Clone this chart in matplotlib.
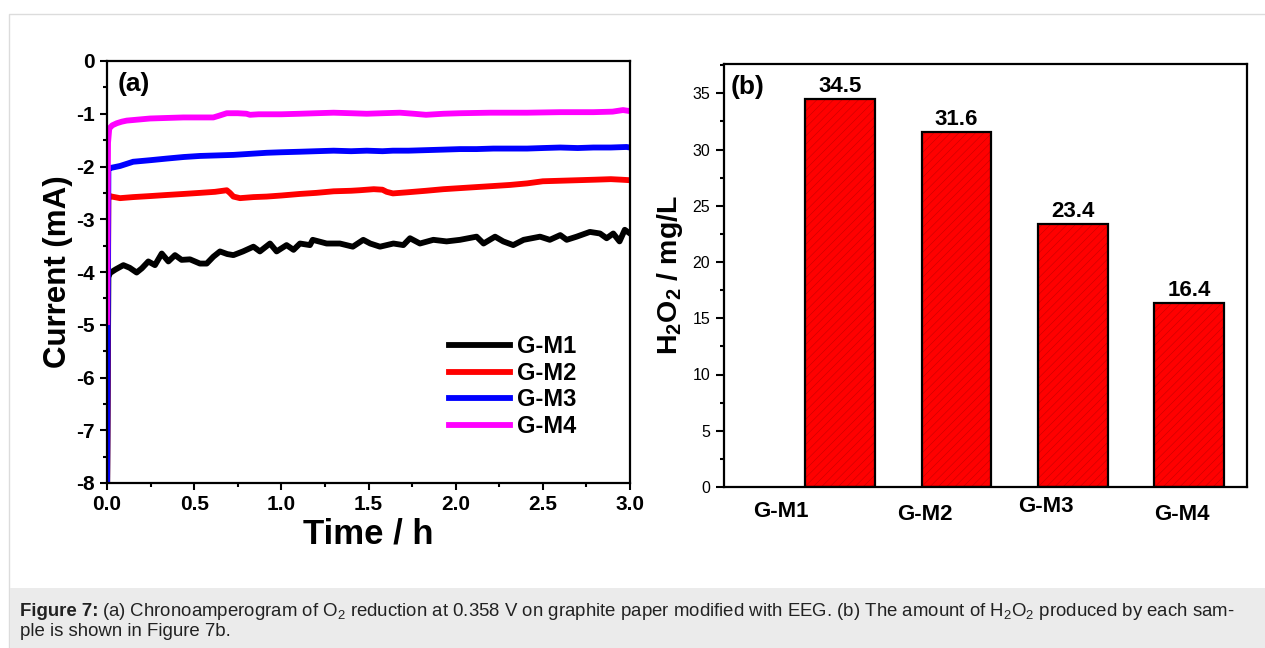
import matplotlib
matplotlib.use("Agg")
import matplotlib.pyplot as plt
from matplotlib.patches import Rectangle
from matplotlib.ticker import MultipleLocator, FormatStrFormatter

plt.rcParams["font.family"] = ["Liberation Sans", "DejaVu Sans"]
plt.rcParams["mathtext.fontset"] = "custom"
plt.rcParams["mathtext.rm"] = "Liberation Sans"
plt.rcParams["mathtext.bf"] = "Liberation Sans:bold"
plt.rcParams["mathtext.it"] = "Liberation Sans:italic"
plt.rcParams["mathtext.default"] = "regular"
plt.rcParams["axes.unicode_minus"] = False
plt.rcParams["hatch.linewidth"] = 0.4

# ---- (a) chronoamperometry traces: time (h) and current (mA) ----
t_m1 = [0.0, 0.008, 0.017, 0.05, 0.094, 0.13, 0.17, 0.20, 0.237, 0.275, 0.314,
        0.352, 0.39, 0.428, 0.476, 0.533, 0.572, 0.61, 0.648, 0.69, 0.725, 0.78,
        0.84, 0.877, 0.935, 0.973, 1.03, 1.07, 1.107, 1.164, 1.18, 1.26, 1.336,
        1.41, 1.47, 1.51, 1.566, 1.643, 1.70, 1.738, 1.795, 1.872, 1.948, 2.025,
        2.12, 2.16, 2.226, 2.273, 2.33, 2.39, 2.484, 2.54, 2.60, 2.637, 2.694,
        2.77, 2.828, 2.866, 2.904, 2.94, 2.97, 3.0]
i_m1 = [-8.6, -4.10, -4.02, -3.95, -3.87, -3.92, -4.01, -3.93, -3.80, -3.87, -3.65,
        -3.80, -3.68, -3.77, -3.76, -3.84, -3.84, -3.71, -3.61, -3.66, -3.68, -3.61,
        -3.52, -3.61, -3.46, -3.61, -3.49, -3.58, -3.46, -3.49, -3.39, -3.46, -3.46,
        -3.52, -3.39, -3.46, -3.52, -3.46, -3.49, -3.36, -3.46, -3.39, -3.42, -3.39,
        -3.33, -3.46, -3.33, -3.42, -3.49, -3.39, -3.33, -3.39, -3.30, -3.39, -3.33,
        -3.24, -3.27, -3.36, -3.27, -3.42, -3.20, -3.27]

t_m2 = [0.0, 0.008, 0.027, 0.075, 0.15, 0.25, 0.342, 0.44, 0.533, 0.62, 0.687,
        0.705, 0.725, 0.763, 0.84, 0.916, 1.0, 1.107, 1.2, 1.30, 1.40, 1.45, 1.53,
        1.58, 1.604, 1.64, 1.72, 1.83, 1.93, 2.025, 2.12, 2.216, 2.31, 2.41, 2.50,
        2.60, 2.70, 2.80, 2.89, 2.95, 3.0]
i_m2 = [-8.6, -2.55, -2.57, -2.60, -2.58, -2.56, -2.54, -2.52, -2.50, -2.48, -2.45,
        -2.50, -2.57, -2.60, -2.58, -2.57, -2.55, -2.52, -2.50, -2.47, -2.46, -2.45, -2.43,
        -2.44, -2.48, -2.51, -2.49, -2.46, -2.43, -2.41, -2.39, -2.37, -2.35, -2.32, -2.28,
        -2.27, -2.26, -2.25, -2.24, -2.25, -2.26]

t_m3 = [0.0, 0.008, 0.017, 0.075, 0.15, 0.25, 0.342, 0.44, 0.533, 0.63, 0.725,
        0.82, 0.916, 1.0, 1.107, 1.20, 1.30, 1.40, 1.49, 1.58, 1.64, 1.73, 1.83,
        1.93, 2.025, 2.12, 2.216, 2.31, 2.41, 2.50, 2.60, 2.70, 2.79, 2.89, 2.98, 3.0]
i_m3 = [-8.6, -2.05, -2.03, -1.99, -1.91, -1.88, -1.85, -1.82, -1.80, -1.79, -1.78,
        -1.76, -1.74, -1.73, -1.72, -1.71, -1.70, -1.71, -1.70, -1.71, -1.70, -1.70, -1.69,
        -1.68, -1.67, -1.67, -1.66, -1.66, -1.66, -1.65, -1.64, -1.65, -1.64, -1.64, -1.63, -1.64]

t_m4 = [0.0, 0.006, 0.013, 0.03, 0.056, 0.085, 0.113, 0.18, 0.247, 0.34, 0.438,
        0.53, 0.61, 0.64, 0.687, 0.75, 0.80, 0.82, 0.87, 0.916, 1.0, 1.107, 1.20,
        1.30, 1.40, 1.49, 1.58, 1.68, 1.76, 1.83, 1.93, 2.025, 2.2, 2.41, 2.6, 2.79,
        2.9, 2.96, 3.0]
i_m4 = [-4.95, -1.55, -1.28, -1.22, -1.18, -1.15, -1.13, -1.11, -1.09, -1.08, -1.07,
        -1.07, -1.07, -1.04, -0.99, -0.99, -1.00, -1.02, -1.01, -1.01, -1.01, -1.00, -0.99,
        -0.98, -0.99, -1.00, -0.99, -0.98, -1.00, -1.02, -1.00, -0.99, -0.98, -0.98, -0.97, -0.97,
        -0.96, -0.93, -0.95]

series_names = ["G-M1", "G-M2", "G-M3", "G-M4"]
series_colors = ["#000000", "#ff0000", "#0000ff", "#ff00ff"]

# ---- (b) H2O2 yield per sample (mg/L) ----
samples = ["G-M1", "G-M2", "G-M3", "G-M4"]
h2o2 = [34.5, 31.6, 23.4, 16.4]

W, H = 1265, 648
fig = plt.figure(figsize=(W / 100, H / 100), dpi=100)
fig.patch.set_facecolor("white")

# page frame and caption strip
fig.add_artist(Rectangle((9 / W, -0.1), 1.2, (H - 14.5) / H + 0.1, transform=fig.transFigure,
                         facecolor="white", edgecolor="#dcdcdc", linewidth=1.0, zorder=0))
fig.add_artist(Rectangle((9.5 / W, 0), 1.0, (H - 588) / H, transform=fig.transFigure,
                         facecolor="#ebebeb", edgecolor="none", zorder=0.5))

bold = dict(fontweight="bold")

# ================= panel (a) =================
axa = fig.add_axes([107 / W, 1 - 483 / H, (630 - 107) / W, (483 - 61) / H])
traces = [(t_m1, i_m1), (t_m2, i_m2), (t_m3, i_m3), (t_m4, i_m4)]
for (tt, ii), name, col in zip(traces, series_names, series_colors):
    axa.plot(tt, ii, color=col, lw=4.2, label=name, solid_joinstyle="round")
axa.set_xlim(0, 3.0)
axa.set_ylim(-8, 0)
axa.xaxis.set_major_locator(MultipleLocator(0.5))
axa.xaxis.set_minor_locator(MultipleLocator(0.25))
axa.yaxis.set_major_locator(MultipleLocator(1))
axa.yaxis.set_minor_locator(MultipleLocator(0.5))
axa.xaxis.set_major_formatter(FormatStrFormatter("%.1f"))
axa.yaxis.set_major_formatter(FormatStrFormatter("%d"))
axa.tick_params(which="both", direction="out", width=1.5, top=False, right=False)
axa.tick_params(which="major", length=5, labelsize=15, pad=4)
axa.tick_params(which="minor", length=3)
for lab in axa.get_xticklabels() + axa.get_yticklabels():
    lab.set_fontweight("bold")
for sp in axa.spines.values():
    sp.set_linewidth(1.6)
axa.set_xlabel("Time / h", fontsize=25, fontweight="bold", labelpad=2)
axa.set_ylabel("Current (mA)", fontsize=22.5, fontweight="bold", labelpad=2)
axa.text(0.02, 0.975, "(a)", transform=axa.transAxes, fontsize=19, va="top", ha="left", **bold)
leg = axa.legend(loc="upper left", bbox_to_anchor=(0.653, 0.35), frameon=False,
                 borderaxespad=0, borderpad=0, handlelength=2.6, handletextpad=0.3,
                 labelspacing=0.15, prop=dict(size=17, weight="bold"))
for ln in leg.get_lines():
    ln.set_linewidth(4.2)

# ================= panel (b) =================
axb = fig.add_axes([724 / W, 1 - 487 / H, (1247 - 724) / W, (487 - 64) / H])
xpos = list(range(len(samples)))
axb.bar(xpos, h2o2, width=0.6, color="#ff0000", edgecolor="#c80000", linewidth=0,
        hatch="////", zorder=2)
axb.bar(xpos, h2o2, width=0.6, facecolor="none", edgecolor="black", linewidth=1.6, zorder=3)
for x, v in zip(xpos, h2o2):
    axb.annotate(f"{v}", (x, v), xytext=(0, 1), textcoords="offset points",
                 ha="center", va="bottom", fontsize=16, **bold)
axb.set_xlim(-1.0, 3.5)
axb.set_ylim(0, 37.6)
axb.yaxis.set_major_locator(MultipleLocator(5))
axb.yaxis.set_minor_locator(MultipleLocator(2.5))
axb.set_xticks([])
axb.tick_params(axis="y", which="both", direction="out", width=1.5, right=False)
axb.tick_params(axis="y", which="major", length=6, labelsize=11.5, pad=4)
axb.tick_params(axis="y", which="minor", length=3)
for sp in axb.spines.values():
    sp.set_linewidth(1.6)
axb.set_ylabel(r"H$_{\bf 2}$O$_{\bf 2}$ / mg/L", fontsize=20.5, fontweight="bold", labelpad=5)
axb.text(0.012, 0.975, "(b)", transform=axb.transAxes, fontsize=19, va="top", ha="left", **bold)

# category names sit at hand-placed offsets below the axis
label_dx = [-0.507, -0.27, -0.23, -0.06]
label_dy = [-0.059, -0.064, -0.047, -0.066]
for x, name, dx, dy in zip(xpos, samples, label_dx, label_dy):
    axb.text(x + dx, dy, name, transform=axb.get_xaxis_transform(), ha="center",
             va="center", fontsize=16, **bold)

# ================= caption =================
cap_fs = 13.4
cap_y = 1 - 612 / H
cap_y2 = 1 - 632 / H
head = fig.text(20 / W, cap_y, "Figure 7:", fontsize=cap_fs, fontweight="bold",
                color="#222222", va="center", ha="left")
fig.canvas.draw()
bb = head.get_window_extent()
fig.text(bb.x1 / W + 4 / W, cap_y,
         "(a) Chronoamperogram of O$_2$ reduction at 0.358 V on graphite paper modified with EEG. "
         "(b) The amount of H$_2$O$_2$ produced by each sam-",
         fontsize=cap_fs, color="#222222", va="center", ha="left")
fig.text(20 / W, cap_y2, "ple is shown in Figure 7b.", fontsize=cap_fs, color="#222222",
         va="center", ha="left")

fig.savefig("out.png", dpi=100, facecolor="white")
